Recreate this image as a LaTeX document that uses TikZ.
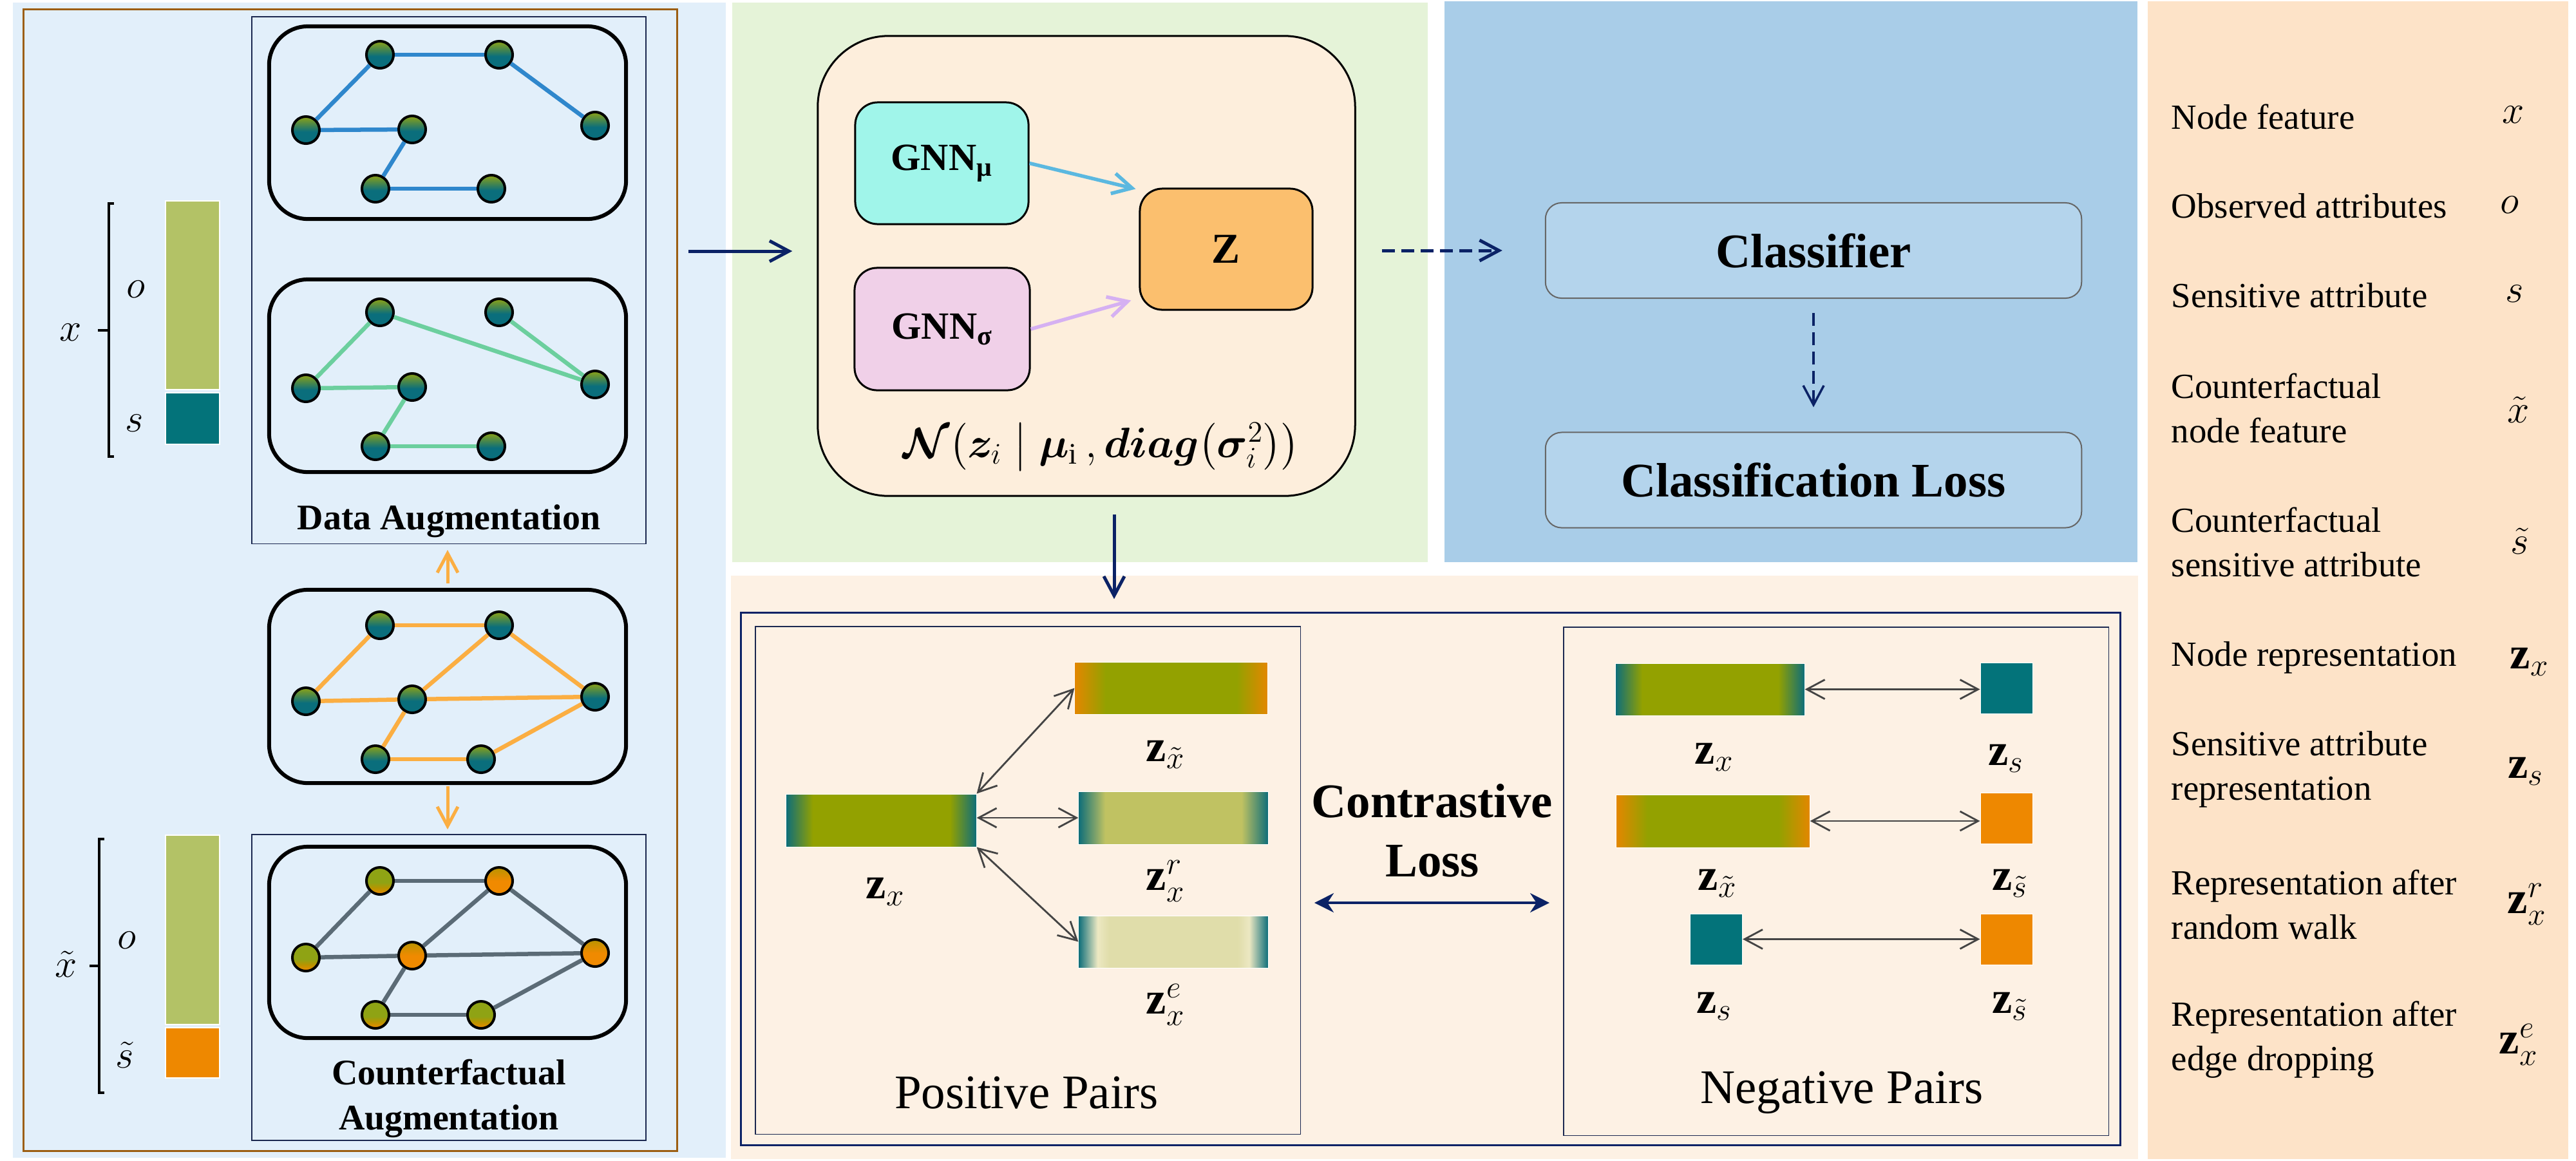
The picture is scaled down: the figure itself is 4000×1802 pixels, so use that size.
\RequirePackage{fix-cm}
\documentclass[tikz,border=0pt]{standalone}
\usepackage{amsmath}
\usepackage{bm}
\usepackage{fontspec}
\setmainfont{Liberation Serif}
\usetikzlibrary{arrows.meta,calc}

\definecolor{cTeal}{HTML}{0E6E79}
\definecolor{cOlive}{HTML}{93A100}
\definecolor{cOrange}{HTML}{EE8800}
\definecolor{cOrEdge}{HTML}{E38700}
\definecolor{cNodeOl}{HTML}{8FA314}
\definecolor{cNodeTe}{HTML}{0A6E7C}
\definecolor{cNodeOr}{HTML}{F08A00}
\definecolor{cNodeMid}{HTML}{B89400}
\definecolor{cOlLight}{HTML}{C0C262}
\definecolor{cPale}{HTML}{E0DDAA}
\definecolor{cPaleHi}{HTML}{ECE8C2}
\definecolor{cNavy}{HTML}{0B2266}
\definecolor{cBrown}{HTML}{9C5E12}
\definecolor{cLeftBg}{HTML}{E2EFFA}
\definecolor{cGreenBg}{HTML}{E5F3D8}
\definecolor{cBlueBg}{HTML}{A9CDE8}
\definecolor{cBoxBlue}{HTML}{B4D4EC}
\definecolor{cLowBg}{HTML}{FDF1E4}
\definecolor{cLegBg}{HTML}{FDE3C8}
\definecolor{cVaeBg}{HTML}{FDEEDC}
\definecolor{cMu}{HTML}{A0F5EA}
\definecolor{cSg}{HTML}{F0D0E8}
\definecolor{cZ}{HTML}{FBBF6E}
\definecolor{cMuArr}{HTML}{5BB8E0}
\definecolor{cSgArr}{HTML}{D5B0F2}
\definecolor{cEdgeBlue}{HTML}{2F87CC}
\definecolor{cEdgeGreen}{HTML}{6CCF9E}
\definecolor{cEdgeOr}{HTML}{FBAE42}
\definecolor{cEdgeGray}{HTML}{5B6B76}
\definecolor{cFeatO}{HTML}{B3C266}
\definecolor{cFeatS}{HTML}{03737A}
\definecolor{cPairArr}{HTML}{444444}
\definecolor{cThin}{HTML}{1B2850}

\pgfdeclareverticalshading{shNodeTG}{100bp}{color(0bp)=(cNodeTe); color(25bp)=(cNodeTe); color(47bp)=(cNodeTe); color(75bp)=(cNodeOl); color(100bp)=(cNodeOl)}
\pgfdeclareverticalshading{shNodeGO}{100bp}{color(0bp)=(cNodeOr); color(25bp)=(cNodeOr); color(37bp)=(cNodeMid); color(47bp)=(cNodeOl); color(75bp)=(cNodeOl); color(100bp)=(cNodeOl)}
\pgfdeclareverticalshading{shNodeOO}{100bp}{color(0bp)=(cNodeOr); color(25bp)=(cNodeOr); color(50bp)=(cNodeOr); color(75bp)=(cNodeMid); color(100bp)=(cNodeMid)}
\pgfdeclarehorizontalshading{shZx}{100bp}{color(0bp)=(cTeal); color(25bp)=(cTeal); color(32bp)=(cOlive); color(68bp)=(cOlive); color(75bp)=(cTeal); color(100bp)=(cTeal)}
\pgfdeclarehorizontalshading{shZxt}{100bp}{color(0bp)=(cOrEdge); color(25bp)=(cOrEdge); color(33bp)=(cOlive); color(67bp)=(cOlive); color(75bp)=(cOrEdge); color(100bp)=(cOrEdge)}
\pgfdeclarehorizontalshading{shZxr}{100bp}{color(0bp)=(cTeal); color(25bp)=(cTeal); color(32bp)=(cOlLight); color(68bp)=(cOlLight); color(75bp)=(cTeal); color(100bp)=(cTeal)}
\pgfdeclarehorizontalshading{shZxe}{100bp}{color(0bp)=(cTeal); color(25bp)=(cTeal); color(30bp)=(cPaleHi); color(33bp)=(cPale); color(67bp)=(cPale); color(70bp)=(cPaleHi); color(75bp)=(cTeal); color(100bp)=(cTeal)}

\newcommand{\fsLab}{\fontsize{15.9}{19.9}\selectfont}
\newcommand{\fsBig}{\fontsize{21.3}{26}\selectfont}
\newcommand{\fsGnn}{\fontsize{17}{20}\selectfont}
\newcommand{\fsZbox}{\fontsize{18.8}{22}\selectfont}
\newcommand{\fsLeg}{\fontsize{15.6}{19.6}\selectfont}
\newcommand{\fsSym}{\fontsize{17.5}{20}\selectfont}
\newcommand{\fsZl}{\fontsize{20}{24}\selectfont}
\newcommand{\fsForm}{\fontsize{18.8}{22}\selectfont}

\begin{document}
\begin{tikzpicture}[x=0.01cm,y=-0.01cm,
  gnodeA/.style={circle,draw=black,line width=0.04cm,minimum size=0.42cm,inner sep=0pt,shade,shading=shNodeTG},
  gnodeB/.style={gnodeA,shading=shNodeGO},
  gnodeC/.style={gnodeA,shading=shNodeOO},
  gedge/.style={line width=0.065cm},
  grect/.style={draw=black,line width=0.06cm,rounded corners=0.6cm,minimum width=5.54cm,inner sep=0pt},
  thinbox/.style={draw=cThin,line width=0.015cm,inner sep=0pt},
  featbar/.style={draw=white,line width=0.02cm,inner sep=0pt,minimum width=0.84cm},
  zbar/.style={draw=white,line width=0.01cm,inner sep=0pt,shade},
  zsq/.style={draw=white,line width=0.01cm,inner sep=0pt,minimum width=0.81cm,minimum height=0.79cm},
  barb/.style={-{Straight Barb[length=0.3cm,width=0.32cm]}},
  pairarrow/.style={draw=cPairArr,line width=0.028cm,{Straight Barb[length=0.28cm,width=0.3cm]}-{Straight Barb[length=0.28cm,width=0.3cm]}},
  navyarrow/.style={draw=cNavy,line width=0.05cm,barb},
  orarrow/.style={draw=cEdgeOr,line width=0.05cm,barb},
  gnnbox/.style={draw=black,line width=0.03cm,rounded corners=0.35cm,inner sep=0pt,font=\fsGnn\bfseries},
  clfbox/.style={draw=black!60,fill=cBoxBlue,line width=0.02cm,rounded corners=0.25cm,minimum width=8.32cm,minimum height=1.48cm,inner sep=0pt,font=\fsBig\bfseries},
  legtxt/.style={anchor=west,align=left,inner sep=0pt,font=\fsLeg},
  legsym/.style={inner sep=0pt,font=\fsSym},
  zlab/.style={inner sep=0pt,font=\fsZl}
]
\useasboundingbox (0,0) rectangle (4000,1802);

% ---------- backgrounds ----------
\fill[cLeftBg] (20,4) rectangle (1127,1798);
\fill[cGreenBg] (1137,4) rectangle (2217,873);
\fill[cBlueBg] (2243,2) rectangle (3319,873);
\fill[cLowBg] (1135,894) rectangle (3320,1800);
\fill[cLegBg] (3335,2) rectangle (3988,1800);

% ---------- left panel ----------
\node[draw=cBrown,line width=0.03cm,minimum width=10.14cm,minimum height=17.72cm,inner sep=0pt] (leftbox) at (544,901) {};
\node[thinbox,minimum width=6.12cm,minimum height=8.18cm] (dabox) at (697,435) {};
\node[thinbox,minimum width=6.12cm,minimum height=4.75cm] (cfbox) at (697,1533.5) {};

\node[grect,minimum height=2.99cm] (gr1) at (695,190.5) {};
\node[grect,minimum height=2.99cm] (gr2) at (695,583.5) {};
\node[grect,minimum height=3.00cm] (gr3) at (695,1066) {};
\node[grect,minimum height=2.97cm] (gr4) at (695,1463.5) {};

% graph 1
\foreach \n/\px/\py in {a/590/85,b/775/85,c/475/202,d/640/201,e/924/195,f/583/293,g/763/293}
  \node[gnodeA] (g1\n) at (\px,\py) {};
\foreach \u/\v in {a/b,b/e,a/c,c/d,d/f,f/g}
  \draw[gedge,cEdgeBlue] (g1\u) -- (g1\v);
% graph 2
\foreach \n/\px/\py in {a/590/485,b/775/485,c/475/603,d/640/601,e/924/597,f/583/693,g/763/693}
  \node[gnodeA] (g2\n) at (\px,\py) {};
\foreach \u/\v in {a/c,a/e,b/e,c/d,d/f,f/g}
  \draw[gedge,cEdgeGreen] (g2\u) -- (g2\v);
% graph 3
\foreach \n/\px/\py in {a/590/971,b/775/971,c/475/1089,d/640/1086,e/924/1082,f/583/1179,g/747/1179}
  \node[gnodeA] (g3\n) at (\px,\py) {};
\foreach \u/\v in {a/b,a/c,b/d,b/e,c/d,d/e,d/f,f/g,g/e}
  \draw[gedge,cEdgeOr] (g3\u) -- (g3\v);
% graph 4
\foreach \n/\px/\py/\s in {a/590/1368/gnodeB,b/775/1368/gnodeC,c/475/1487/gnodeB,d/640/1484/gnodeC,e/924/1480/gnodeC,f/583/1576/gnodeB,g/747/1576/gnodeB}
  \node[\s] (g4\n) at (\px,\py) {};
\foreach \u/\v in {a/b,a/c,b/d,b/e,c/d,d/e,d/f,f/g,g/e}
  \draw[gedge,cEdgeGray] (g4\u) -- (g4\v);

\node[font={\fsLab\bfseries},inner sep=0pt] (datxt) at (697,809) {Data Augmentation};
\node[font={\fsLab\bfseries},align=center,inner sep=0pt] (cftxt) at (697,1706) {Counterfactual\\Augmentation};

\draw[orarrow,shorten <=0.07cm,shorten >=0.09cm] (gr3.north) -- (gr3.north |- dabox.south);
\draw[orarrow,shorten <=0.02cm,shorten >=0.07cm] (gr3.south) -- (gr3.south |- cfbox.north);

% feature vectors
\node[featbar,fill=cFeatO,minimum height=2.93cm] (xo) at (299,458.5) {};
\node[featbar,fill=cFeatS,minimum height=0.80cm] (xs) at (299,650) {};
\node[featbar,fill=cFeatO,minimum height=2.94cm] (cxo) at (299,1444) {};
\node[featbar,fill=cOrange,minimum height=0.78cm] (cxs) at (299,1635) {};

\draw[line width=0.04cm] (177,316) -- (169,316) -- (169,709) -- (177,709) (169,513) -- (152,513);
\draw[line width=0.04cm] (162,1303) -- (154,1303) -- (154,1697) -- (162,1697) (154,1500) -- (139,1500);
\node[legsym] (lx) at (110,516) {$x$};
\node[legsym] (lo) at (211,449) {$o$};
\node[legsym] (ls) at (209,657) {$s$};
\node[legsym] (lxt) at (103,1497) {$\tilde{x}$};
\node[legsym] (lot) at (197,1460) {$o$};
\node[legsym] (lst) at (194,1638) {$\tilde{s}$};

% ---------- VAE panel ----------
\node[draw=black,line width=0.03cm,fill=cVaeBg,rounded corners=1.1cm,minimum width=8.34cm,minimum height=7.14cm,inner sep=0pt] (vae) at (1687,413) {};
\node[gnnbox,fill=cMu,minimum width=2.69cm,minimum height=1.89cm] (mu) at (1462.5,253.5) {GNN\textsubscript{μ}};
\node[gnnbox,fill=cSg,minimum width=2.72cm,minimum height=1.90cm] (sg) at (1463,511) {GNN\textsubscript{σ}};
\node[gnnbox,fill=cZ,minimum width=2.68cm,minimum height=1.88cm,font=\fsZbox\bfseries] (z) at (1904,387) {Z};
\draw[draw=cMuArr,line width=0.055cm,barb] (mu.east) -- ($(z.north west)+(-5,2)$);
\draw[draw=cSgArr,line width=0.055cm,barb] (sg.east) -- ($(z.south west)+(-12,-16)$);
\node[inner sep=0pt,font=\fsForm] (form) at (1710,694) {$\bm{\mathcal{N}}\bigl(\bm{z}_i\;\big|\;\bm{\mu}_{\mathrm{i}}\,,\bm{diag}\bigl(\bm{\sigma}_i^2\bigr)\bigr)$};

\coordinate (inarr) at (1150,390);
\draw[navyarrow,shorten <=0.16cm,shorten >=0.38cm] (leftbox.east |- inarr) -- (vae.west |- inarr);

% ---------- classifier panel ----------
\node[clfbox] (clf) at (2816,389) {Classifier};
\node[clfbox] (clfl) at (2816,745.5) {Classification Loss};
\draw[navyarrow,dash pattern=on 0.2cm off 0.1cm,shorten <=0.4cm,shorten >=0.66cm] (vae.east |- clf.west) -- (clf.west);
\draw[navyarrow,line width=0.035cm,dash pattern=on 0.2cm off 0.1cm,shorten <=0.22cm,shorten >=0.38cm] (clf.south) -- (clfl.north);

% ---------- contrastive panel ----------
\node[draw=cNavy,line width=0.03cm,minimum width=21.41cm,minimum height=8.26cm,inner sep=0pt] (outer) at (2221.5,1365) {};
\coordinate (dnarr) at (1730,880);
\draw[navyarrow,shorten <=0.27cm,shorten >=0.2cm] (vae.south -| dnarr) -- (outer.north -| dnarr);

\node[thinbox,minimum width=8.46cm,minimum height=7.88cm] (posbox) at (1596,1367) {};
\node[thinbox,minimum width=8.46cm,minimum height=7.89cm] (negbox) at (2851,1368.5) {};

% positive pairs
\node[zbar,shading=shZxt,minimum width=2.99cm,minimum height=0.81cm] (pzxt) at (1818.5,1068.5) {};
\node[zbar,shading=shZx,minimum width=2.95cm,minimum height=0.82cm] (pzx) at (1368.5,1274) {};
\node[zbar,shading=shZxr,minimum width=2.94cm,minimum height=0.82cm] (pzxr) at (1822,1270) {};
\node[zbar,shading=shZxe,minimum width=2.94cm,minimum height=0.81cm] (pzxe) at (1822,1462.5) {};
\draw[pairarrow] (pzx.north east) -- (pzxt.west);
\draw[pairarrow] (pzx.east |- pzxr.west) -- (pzxr.west);
\draw[pairarrow] (pzx.south east) -- (pzxe.west);
\node[zlab] (lpzxt) at (1810,1172) {$\mathbf{z}_{\tilde{x}}$};
\node[zlab] (lpzx) at (1375,1385) {$\mathbf{z}_{x}$};
\node[zlab] (lpzxr) at (1810,1368) {$\mathbf{z}_{x}^{r}$};
\node[zlab] (lpzxe) at (1810,1560) {$\mathbf{z}_{x}^{e}$};
\node[inner sep=0pt,font=\fsBig] (postxt) at (1594,1697) {Positive Pairs};

% negative pairs
\node[zbar,shading=shZx,minimum width=2.93cm,minimum height=0.81cm] (nzx) at (2655.5,1070.5) {};
\node[zsq,fill=cFeatS] (nzs) at (3115.5,1069) {};
\node[zbar,shading=shZxt,minimum width=3.00cm,minimum height=0.82cm] (nzxt) at (2660,1275) {};
\node[zsq,fill=cOrange] (nzst) at (3115.5,1270.5) {};
\node[zsq,fill=cFeatS] (nzs2) at (2665,1458.5) {};
\node[zsq,fill=cOrange] (nzst2) at (3115.5,1458.5) {};
\draw[pairarrow] (nzx.east) -- (nzs.west |- nzx.east);
\draw[pairarrow] (nzxt.east) -- (nzst.west |- nzxt.east);
\draw[pairarrow] (nzs2.east) -- (nzst2.west);
\node[zlab] (lnzx) at (2662,1176) {$\mathbf{z}_{x}$};
\node[zlab] (lnzs) at (3115,1178) {$\mathbf{z}_{s}$};
\node[zlab] (lnzxt) at (2667,1372) {$\mathbf{z}_{\tilde{x}}$};
\node[zlab] (lnzst) at (3121,1372) {$\mathbf{z}_{\tilde{s}}$};
\node[zlab] (lnzs2) at (2662,1563) {$\mathbf{z}_{s}$};
\node[zlab] (lnzst2) at (3121,1563) {$\mathbf{z}_{\tilde{s}}$};
\node[inner sep=0pt,font=\fsBig] (negtxt) at (2860,1697) {Negative Pairs};

\node[inner sep=0pt,align=center,font=\fsBig\bfseries] (cltxt) at (2224,1290) {Contrastive\\Loss};
\coordinate (clarr) at (2224,1402);
\draw[draw=cNavy,line width=0.035cm,{Stealth[length=0.3cm,width=0.3cm]}-{Stealth[length=0.3cm,width=0.3cm]},shorten <=0.21cm,shorten >=0.21cm] (posbox.east |- clarr) -- (negbox.west |- clarr);

% ---------- legend ----------
\node[legtxt] (t1) at (3371,181) {Node feature};
\node[legtxt] (t2) at (3371,320) {Observed attributes};
\node[legtxt] (t3) at (3371,459) {Sensitive attribute};
\node[legtxt] (t4) at (3371,634) {Counterfactual\\node feature};
\node[legtxt] (t5) at (3371,842) {Counterfactual\\sensitive attribute};
\node[legtxt] (t6) at (3371,1021) {Node representation};
\node[legtxt] (t7) at (3371,1195) {Sensitive attribute\\representation};
\node[legtxt] (t8) at (3371,1405) {Representation after\\random walk};
\node[legtxt] (t9) at (3371,1615) {Representation after\\edge dropping};
\node[legsym] (s1) at (3903,178) {$x$};
\node[legsym] (s2) at (3897,318) {$o$};
\node[legsym] (s3) at (3905,456) {$s$};
\node[legsym] (s4) at (3911,636) {$\tilde{x}$};
\node[legsym] (s5) at (3913,840) {$\tilde{s}$};
\node[zlab] (s6) at (3928,1028) {$\mathbf{z}_{x}$};
\node[zlab] (s7) at (3922,1198) {$\mathbf{z}_{s}$};
\node[zlab] (s8) at (3924,1404) {$\mathbf{z}_{x}^{r}$};
\node[zlab] (s9) at (3911,1622) {$\mathbf{z}_{x}^{e}$};
\end{tikzpicture}
\end{document}
